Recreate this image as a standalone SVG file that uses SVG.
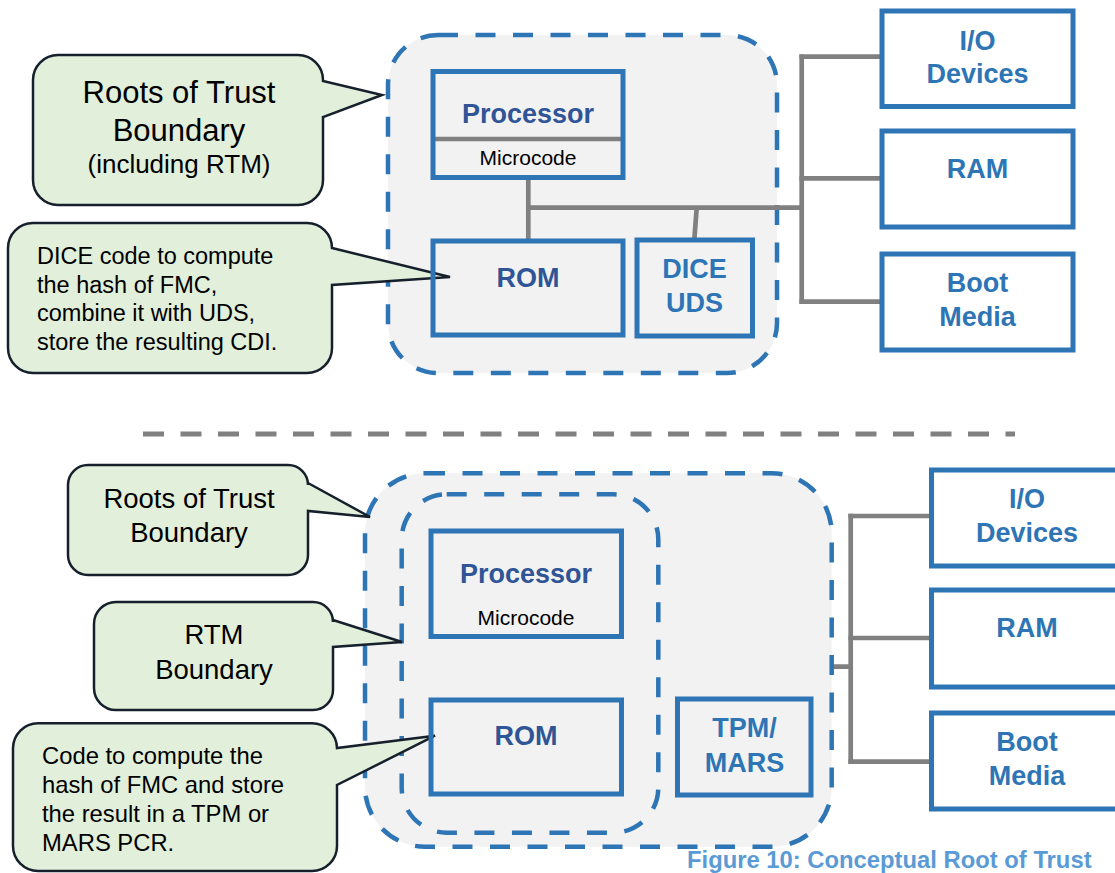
<svg xmlns="http://www.w3.org/2000/svg" width="1115" height="873" viewBox="0 0 1115 873">
<style>
.bound{fill:#f2f2f2;stroke:#2e75b6;stroke-width:4.5;stroke-dasharray:20 17.5}
.inner{fill:none;stroke:#2e75b6;stroke-width:4.5;stroke-dasharray:20 17.5}
.box{fill:none;stroke:#2e75b6;stroke-width:5}
.wbox{fill:#ffffff;stroke:#2e75b6;stroke-width:5}
.call{fill:#e2efda;stroke:#16202c;stroke-width:2.5;stroke-linejoin:miter}
.wire{fill:none;stroke:#808080;stroke-width:4.7}
.t1{font-family:"Liberation Sans",Arial,sans-serif;font-weight:bold;font-size:27px;fill:#2f5597;text-anchor:middle}
.t2{font-family:"Liberation Sans",Arial,sans-serif;font-weight:bold;font-size:27px;fill:#2e75b6;text-anchor:middle}
.mc{font-family:"Liberation Sans",Arial,sans-serif;font-size:21px;fill:#000;text-anchor:middle}
.ct{font-family:"Liberation Sans",Arial,sans-serif;fill:#000}
</style>

<!-- Top section -->
<g id="rot-boundary-top">
  <rect class="bound" x="388" y="35" width="389" height="338" rx="50" ry="50"/>
</g>
<g id="callout-rot-top">
  <path class="call" d="M58,55 H298 A25,25 0 0 1 323,80 V81 L382,95 L323,117 V180 A25,25 0 0 1 298,205 H58 A25,25 0 0 1 33,180 V80 A25,25 0 0 1 58,55 Z"/>
  <text class="ct" x="179" y="103" font-size="31" text-anchor="middle">Roots of Trust</text>
  <text class="ct" x="179" y="141" font-size="31" text-anchor="middle">Boundary</text>
  <text class="ct" x="179" y="173" font-size="26" text-anchor="middle">(including RTM)</text>
</g>
<g id="callout-dice">
  <path class="call" d="M33,223 H307 A25,25 0 0 1 332,248 L450,277 L332,285 V348 A25,25 0 0 1 307,373 H33 A25,25 0 0 1 8,348 V248 A25,25 0 0 1 33,223 Z"/>
  <text class="ct" x="37" y="264" font-size="23.5">DICE code to compute</text>
  <text class="ct" x="37" y="292.5" font-size="23.5">the hash of FMC,</text>
  <text class="ct" x="37" y="321" font-size="23.5">combine it with UDS,</text>
  <text class="ct" x="37" y="349.5" font-size="23.5">store the resulting CDI.</text>
</g>

<g id="connectors">
  <!-- top -->
  <line class="wire" x1="433" y1="139" x2="623" y2="139"/>
  <line class="wire" x1="528.3" y1="177.5" x2="528.3" y2="241"/>
  <line class="wire" x1="528.3" y1="207.7" x2="801.7" y2="207.7"/>
  <line class="wire" x1="696.7" y1="207.7" x2="694.3" y2="240"/>
  <line class="wire" x1="801.7" y1="54.5" x2="801.7" y2="304"/>
  <line class="wire" x1="799.4" y1="56.7" x2="882" y2="56.7"/>
  <line class="wire" x1="799.4" y1="178.3" x2="882" y2="178.3"/>
  <line class="wire" x1="799.4" y1="301.7" x2="882" y2="301.7"/>
  <!-- divider -->
  <line x1="143" y1="434" x2="1015" y2="434" stroke="#808080" stroke-width="5" stroke-dasharray="21 16.5"/>
  <!-- bottom -->
  <line class="wire" x1="431" y1="598.3" x2="621.5" y2="598.3"/>
  <line class="wire" x1="526.7" y1="636.5" x2="526.7" y2="700"/>
  <line class="wire" x1="526.7" y1="666.7" x2="850.7" y2="666.7"/>
  <line class="wire" x1="747.3" y1="666.7" x2="747.3" y2="699"/>
  <line class="wire" x1="850.7" y1="513.7" x2="850.7" y2="764"/>
  <line class="wire" x1="848.4" y1="516" x2="931.5" y2="516"/>
  <line class="wire" x1="848.4" y1="638" x2="931.5" y2="638"/>
  <line class="wire" x1="848.4" y1="761.7" x2="931.5" y2="761.7"/>
</g>

<g id="processor-top">
  <rect class="box" x="433" y="71.5" width="190" height="106"/>
  <text class="t1" x="528" y="123">Processor</text>
  <text class="mc" x="528" y="164.5">Microcode</text>
</g>
<g id="rom-top">
  <rect class="box" x="433" y="241" width="190" height="94"/>
  <text class="t1" x="528" y="287">ROM</text>
</g>
<g id="dice-uds">
  <rect class="box" x="637" y="240" width="115.5" height="96"/>
  <text class="t2" x="694.5" y="278">DICE</text>
  <text class="t2" x="694.5" y="312">UDS</text>
</g>
<g id="io-top">
  <rect class="wbox" x="882" y="11" width="191" height="95.5"/>
  <text class="t2" x="977.5" y="50">I/O</text>
  <text class="t2" x="977.5" y="83">Devices</text>
</g>
<g id="ram-top">
  <rect class="wbox" x="882" y="131" width="191" height="96"/>
  <text class="t2" x="977.5" y="177.5">RAM</text>
</g>
<g id="boot-top">
  <rect class="wbox" x="882" y="254" width="191" height="96"/>
  <text class="t2" x="977.5" y="292">Boot</text>
  <text class="t2" x="977.5" y="326">Media</text>
</g>

<!-- Bottom section -->
<g id="rot-boundary-bottom">
  <rect class="bound" x="365" y="473.3" width="466.7" height="373.4" rx="60" ry="60"/>
</g>
<g id="rtm-boundary">
  <rect class="inner" x="401.7" y="494.3" width="256.6" height="338.4" rx="45" ry="45"/>
</g>
<g id="callout-rot-bottom">
  <path class="call" d="M88,465 H288 A20,20 0 0 1 308,485 V483 L370,517 L308,511 V555 A20,20 0 0 1 288,575 H88 A20,20 0 0 1 68,555 V485 A20,20 0 0 1 88,465 Z"/>
  <text class="ct" x="189" y="508" font-size="27.5" text-anchor="middle">Roots of Trust</text>
  <text class="ct" x="189" y="541.5" font-size="27.5" text-anchor="middle">Boundary</text>
</g>
<g id="callout-rtm">
  <path class="call" d="M116,602 H313 A20,20 0 0 1 333,622 V620 L402,642 L333,647 V690 A20,20 0 0 1 313,710 H116 A22,22 0 0 1 94,688 V624 A22,22 0 0 1 116,602 Z"/>
  <text class="ct" x="214" y="644" font-size="27.5" text-anchor="middle">RTM</text>
  <text class="ct" x="214" y="679" font-size="27.5" text-anchor="middle">Boundary</text>
</g>
<g id="callout-code">
  <path class="call" d="M38,723.3 H312 A25,25 0 0 1 337,748 L435,735.7 L337,785 V846 A25,25 0 0 1 312,871 H38 A25,25 0 0 1 13,846 V748 A25,25 0 0 1 38,723.3 Z"/>
  <text class="ct" x="42" y="764" font-size="23.8">Code to compute the</text>
  <text class="ct" x="42" y="793" font-size="23.8">hash of FMC and store</text>
  <text class="ct" x="42" y="822" font-size="23.8">the result in a TPM or</text>
  <text class="ct" x="42" y="850.5" font-size="23.8">MARS PCR.</text>
</g>

<g id="processor-bottom">
  <rect class="box" x="431" y="531" width="190.5" height="105.5"/>
  <text class="t1" x="526" y="583">Processor</text>
  <text class="mc" x="526" y="624.5">Microcode</text>
</g>
<g id="rom-bottom">
  <rect class="box" x="431" y="700" width="190.5" height="94"/>
  <text class="t1" x="526" y="745">ROM</text>
</g>
<g id="tpm-mars">
  <rect class="box" x="677.5" y="699" width="133.5" height="96"/>
  <text class="t2" x="744.5" y="737">TPM/</text>
  <text class="t2" x="744.5" y="772">MARS</text>
</g>
<g id="io-bottom">
  <rect class="wbox" x="931.5" y="470" width="195" height="96"/>
  <text class="t2" x="1027" y="508">I/O</text>
  <text class="t2" x="1027" y="542">Devices</text>
</g>
<g id="ram-bottom">
  <rect class="wbox" x="931.5" y="590" width="195" height="97"/>
  <text class="t2" x="1027" y="637">RAM</text>
</g>
<g id="boot-bottom">
  <rect class="wbox" x="931.5" y="713" width="195" height="96"/>
  <text class="t2" x="1027" y="751">Boot</text>
  <text class="t2" x="1027" y="785">Media</text>
</g>

<g id="caption">
  <text x="687" y="868" font-family="'Liberation Sans',Arial,sans-serif" font-weight="bold" font-size="23.8" fill="#5b9bd5">Figure 10: Conceptual Root of Trust</text>
</g>
</svg>
